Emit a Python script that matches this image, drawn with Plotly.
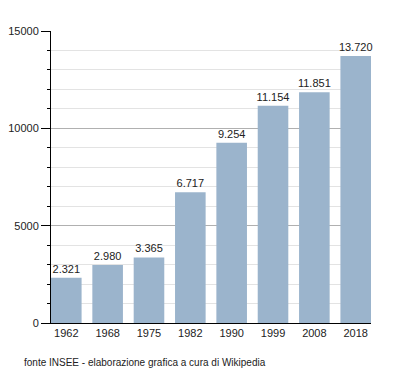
import plotly.graph_objects as go

years = ["1962", "1968", "1975", "1982", "1990", "1999", "2008", "2018"]
population = [2321, 2980, 3365, 6717, 9254, 11154, 11851, 13720]
y_ticks = [0, 5000, 10000, 15000]

labels = [f"{v:,}".replace(",", ".") for v in population]

fig = go.Figure(go.Bar(
    x=years, y=population,
    marker=dict(color="#9bb4cc", line=dict(width=0)),
    text=labels, textposition="outside", cliponaxis=False,
    constraintext="none",
    textfont=dict(family="Liberation Sans, Arial, sans-serif", size=11, color="#222"),
    width=0.74,
))

fig.update_layout(
    width=392, height=365,
    margin=dict(l=43, r=29, t=23, b=50, autoexpand=False),
    paper_bgcolor="white", plot_bgcolor="white",
    font=dict(family="Liberation Sans, Arial, sans-serif", size=11, color="#222"),
    showlegend=False,
    bargap=0.26,
    xaxis=dict(
        type="category", range=[-0.37, 7.37], automargin=False,
        showline=True, linecolor="black", linewidth=1,
        ticks="", showgrid=False, tickfont=dict(size=11),
    ),
    yaxis=dict(
        range=[0, 15000], tickvals=y_ticks, tickformat="d", automargin=False,
        showline=True, linecolor="black", linewidth=1,
        ticks="outside", ticklen=9, tickcolor="black", tickwidth=1,
        showgrid=True, gridcolor="#b0b0b0", gridwidth=1,
        zeroline=False,
        minor=dict(dtick=1000, showgrid=True, gridcolor="#e3e3e3", gridwidth=1,
                   ticks="outside", ticklen=3, tickcolor="black"),
        tickfont=dict(size=11),
    ),
    annotations=[dict(
        text="fonte INSEE - elaborazione grafica a cura di Wikipedia",
        xref="paper", yref="paper", x=-0.09, y=-0.134,
        xanchor="left", yanchor="middle", showarrow=False,
        font=dict(size=10, color="#222"),
    )],
)

fig.write_html("out.html")
